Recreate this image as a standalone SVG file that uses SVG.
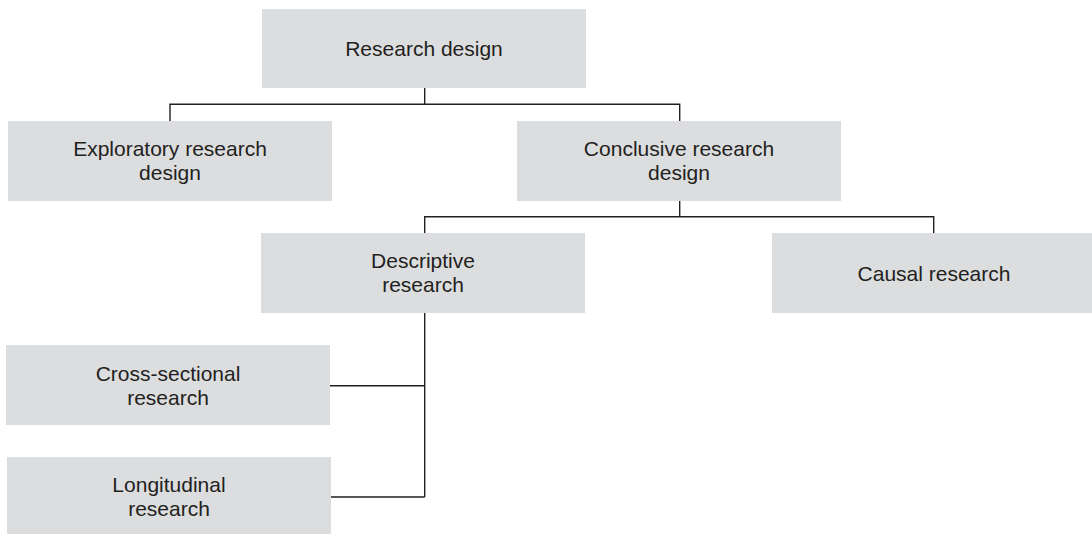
<svg xmlns="http://www.w3.org/2000/svg" width="1092" height="534" viewBox="0 0 1092 534">
<style>
.box{fill:#dcdddf;}
.t{font-family:"Liberation Sans",Arial,sans-serif;font-size:21px;fill:#231f20;text-anchor:middle;}
.c{fill:none;stroke:#231f20;stroke-width:1.4;}
</style>
<rect width="1092" height="534" fill="#ffffff"/>
<g id="connectors">
<path class="c" d="M424.7 88 V104.3 M170 121 V104.3 H679.7 V121"/>
<path class="c" d="M679.7 201 V216.8 M424.7 233 V216.8 H933.7 V233"/>
<path class="c" d="M424.7 313 V497 M330 385.7 H424.7 M331 497 H424.7"/>
</g>
<g id="research-design">
<rect class="box" x="262" y="9" width="324" height="79"/>
<text class="t" x="424" y="56">Research design</text>
</g>
<g id="exploratory">
<rect class="box" x="8" y="121" width="324" height="80"/>
<text class="t" x="170" y="156">Exploratory research</text>
<text class="t" x="170" y="180">design</text>
</g>
<g id="conclusive">
<rect class="box" x="517" y="121" width="324" height="80"/>
<text class="t" x="679" y="156">Conclusive research</text>
<text class="t" x="679" y="180">design</text>
</g>
<g id="descriptive">
<rect class="box" x="261" y="233" width="324" height="80"/>
<text class="t" x="423" y="268">Descriptive</text>
<text class="t" x="423" y="292">research</text>
</g>
<g id="causal">
<rect class="box" x="772" y="233" width="324" height="80"/>
<text class="t" x="934" y="281">Causal research</text>
</g>
<g id="cross-sectional">
<rect class="box" x="6" y="345" width="324" height="80"/>
<text class="t" x="168" y="381">Cross-sectional</text>
<text class="t" x="168" y="405">research</text>
</g>
<g id="longitudinal">
<rect class="box" x="7" y="457" width="324" height="80"/>
<text class="t" x="169" y="492">Longitudinal</text>
<text class="t" x="169" y="516">research</text>
</g>
</svg>
